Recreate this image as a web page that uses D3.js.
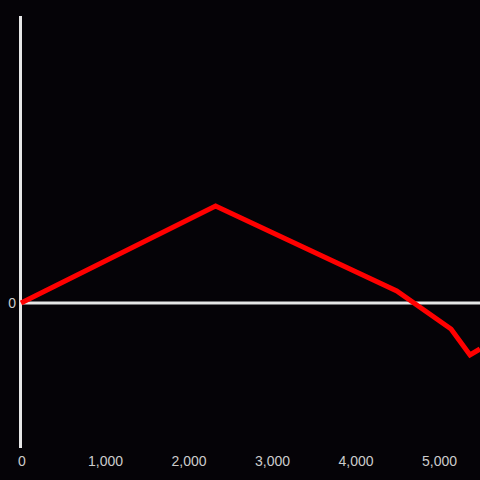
<!DOCTYPE html>
<html><head><meta charset="utf-8">
<script src="https://cdn.jsdelivr.net/npm/d3@7"></script>
<style>html,body{margin:0;padding:0;background:#050307;}svg{display:block;}</style>
</head><body>
<script>
const xValues = [0, 2330, 4500, 5150, 5377, 5497];
const yValues = [0, 97, 12, -26, -52, -46];
const xTicks = [0, 1000, 2000, 3000, 4000, 5000];

const W = 480, H = 480;
const svg = d3.select("body").append("svg").attr("width", W).attr("height", H);
svg.append("rect").attr("width", W).attr("height", H).attr("fill", "#050307");

const x = d3.scaleLinear().domain([0, 5497]).range([21, 480]);
const y = d3.scaleLinear().domain([-145, 287]).range([448, 16]);

// y axis line
svg.append("line").attr("x1", 20.5).attr("x2", 20.5).attr("y1", y(287)).attr("y2", y(-145))
  .attr("stroke", "#e6e6e6").attr("stroke-width", 3);
// zero line
svg.append("line").attr("x1", 20).attr("x2", 480).attr("y1", y(0)).attr("y2", y(0))
  .attr("stroke", "#e6e6e6").attr("stroke-width", 3);

svg.append("text").attr("x", 16).attr("y", y(0)).attr("dy", "0.35em")
  .attr("text-anchor", "end").attr("fill", "#cccccc")
  .style("font-family", "Liberation Sans, Arial, sans-serif").style("font-size", "14px").text("0");

const fmt = d3.format(",");
svg.selectAll("text.xt").data(xTicks).enter().append("text").attr("class", "xt")
  .attr("x", d => x(d) + 1).attr("y", 461).attr("dy", "0.35em")
  .attr("text-anchor", "middle").attr("fill", "#cccccc")
  .style("font-family", "Liberation Sans, Arial, sans-serif").style("font-size", "14px")
  .text(d => fmt(d));

const pts = xValues.map((v, i) => [v, yValues[i]]);
svg.append("path").datum(pts)
  .attr("d", d3.line().x(d => x(d[0])).y(d => y(d[1])))
  .attr("fill", "none").attr("stroke", "#ff0000").attr("stroke-width", 5)
  .attr("stroke-linejoin", "miter");
</script>
</body></html>
